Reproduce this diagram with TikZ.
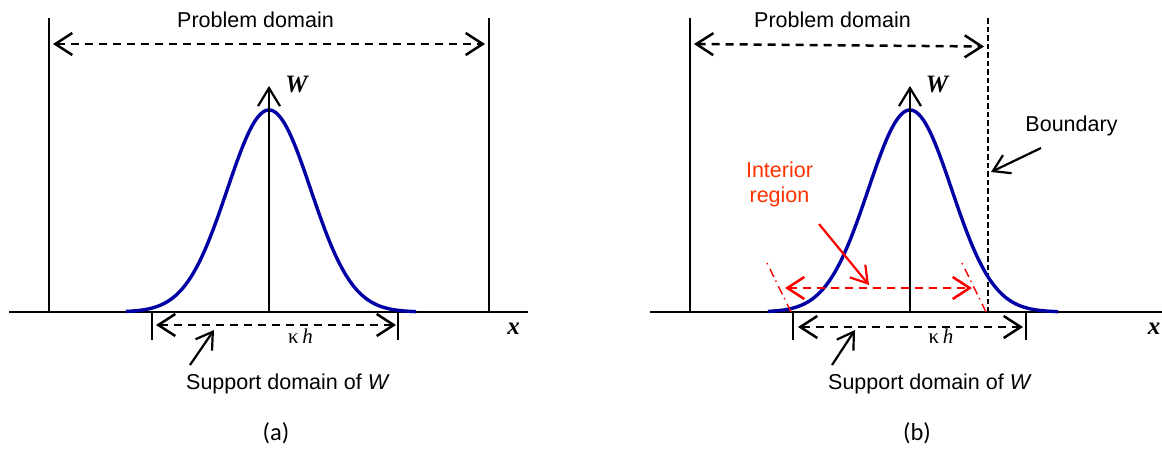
\documentclass[tikz,border=0pt]{standalone}
\usepackage{fontspec}
\setmainfont{Liberation Sans}
\newfontfamily\tnrfont{Liberation Serif}
\newfontfamily\capfont{Carlito}
\usetikzlibrary{arrows.meta}
\definecolor{curveblue}{RGB}{0,0,165}
\definecolor{labelred}{RGB}{255,51,0}
\definecolor{linered}{RGB}{255,0,0}
\begin{document}
\begin{tikzpicture}[x=1pt,y=-1pt,
  solidline/.style={line width=2.2pt},
  tickline/.style={line width=1.3pt},
  dasharrow/.style={line width=2.5pt,dash pattern=on 8pt off 6pt,
     {Straight Barb[length=17pt,width=22pt]}-{Straight Barb[length=17pt,width=22pt]}},
  reddasharrow/.style={dasharrow,draw=linered},
  pointer/.style={line width=2.2pt,-{Straight Barb[length=16pt,width=20pt]}},
  redpointer/.style={pointer,draw=linered},
  boundline/.style={line width=1.5pt,dash pattern=on 5.5pt off 3pt},
  reddashdot/.style={line width=1.4pt,draw=linered,dash pattern=on 1.5pt off 5pt on 9pt off 4pt},
  curve/.style={line width=3.4pt,draw=curveblue,line join=round},
  txt/.style={inner sep=0pt,anchor=base,font=\fontsize{21.5}{24}\selectfont},
  redtxt/.style={txt,text=labelred},
  varlbl/.style={inner sep=0pt,anchor=base,font=\fontsize{25}{28}\selectfont\tnrfont\bfseries\itshape},
  khlbl/.style={inner sep=0pt,anchor=base,font=\fontsize{21}{24}\selectfont\tnrfont},
  caplbl/.style={inner sep=0pt,anchor=base,font=\fontsize{24.5}{28}\selectfont\capfont}]
\useasboundingbox (0,0) rectangle (1162,448);
\fill[white] (0,0) rectangle (1162,448);

% ---------------- panel (a) ----------------
\coordinate (aLtop) at (49,18);   \coordinate (aLbot) at (49,312);
\coordinate (aRtop) at (489,18);  \coordinate (aRbot) at (489,312);
\coordinate (aXs) at (9,312);     \coordinate (aXe) at (528,312);
\coordinate (aWs) at (269,312);   \coordinate (aWe) at (269,86);
\coordinate (aPs) at (53,44);     \coordinate (aPe) at (485,44);
\coordinate (aT1s) at (152,312);  \coordinate (aT1e) at (152,340);
\coordinate (aT2s) at (398,312);  \coordinate (aT2e) at (398,340);
\coordinate (aSs) at (156,325);   \coordinate (aSe) at (396,325);
\coordinate (aKs) at (190,365);   \coordinate (aKe) at (214,330);

\draw[solidline] (aLtop) -- (aLbot);
\draw[solidline] (aRtop) -- (aRbot);
\draw[solidline] (aXs) -- (aXe);
\draw[curve] plot[domain=126:416,samples=160,smooth]
   (\x,{312-202*exp(-((\x-269)/59)*((\x-269)/59))});
\draw[solidline,-{Straight Barb[length=18pt,width=22pt]}] (aWs) -- (aWe);
\draw[dasharrow] (aPs) -- (aPe);
\draw[tickline] (aT1s) -- (aT1e);
\draw[tickline] (aT2s) -- (aT2e);
\draw[dasharrow] (aSs) -- (aSe);
\draw[pointer] (aKs) -- (aKe);

\node[txt] (aProb) at (255.5,27) {Problem domain};
\node[varlbl] (aW) at (296.5,92) {W};
\node[varlbl] (aX) at (513.5,334) {x};
\node[khlbl] (aKh) at (300.5,343) {κ\,\itshape h};
\node[txt] (aSup) at (288,389) {Support domain of \textit{W}};
\node[caplbl] (aCap) at (276,440) {(a)};

% ---------------- panel (b) ----------------
\coordinate (bLtop) at (690,18);   \coordinate (bLbot) at (690,312);
\coordinate (bBtop) at (988,18);   \coordinate (bBbot) at (988,312);
\coordinate (bXs) at (650,312);    \coordinate (bXe) at (1162,312);
\coordinate (bWs) at (910,312);    \coordinate (bWe) at (910,86);
\coordinate (bPs) at (694,44);     \coordinate (bPe) at (984,46.5);
\coordinate (bT1s) at (793,312);   \coordinate (bT1e) at (793,340);
\coordinate (bT2s) at (1026,312);  \coordinate (bT2e) at (1026,340);
\coordinate (bSs) at (798,327);    \coordinate (bSe) at (1023,327);
\coordinate (bKs) at (832,365);    \coordinate (bKe) at (855,330);
\coordinate (bBps) at (1041,148);  \coordinate (bBpe) at (991,172);
\coordinate (bD1s) at (767,263);   \coordinate (bD1e) at (792,314);
\coordinate (bD2s) at (962,263);   \coordinate (bD2e) at (987,314);
\coordinate (bIs) at (785,288);    \coordinate (bIe) at (972,288);
\coordinate (bRps) at (819,224);   \coordinate (bRpe) at (869,285);

\draw[solidline] (bLtop) -- (bLbot);
\draw[boundline] (bBtop) -- (bBbot);
\draw[solidline] (bXs) -- (bXe);
\draw[curve] plot[domain=768:1058,samples=160,smooth]
   (\x,{312-202*exp(-((\x-910)/59)*((\x-910)/59))});
\draw[solidline,-{Straight Barb[length=18pt,width=22pt]}] (bWs) -- (bWe);
\draw[dasharrow] (bPs) -- (bPe);
\draw[tickline] (bT1s) -- (bT1e);
\draw[tickline] (bT2s) -- (bT2e);
\draw[dasharrow] (bSs) -- (bSe);
\draw[pointer] (bKs) -- (bKe);
\draw[pointer] (bBps) -- (bBpe);
\draw[reddashdot] (bD1s) -- (bD1e);
\draw[reddashdot] (bD2s) -- (bD2e);
\draw[reddasharrow] (bIs) -- (bIe);
\draw[redpointer] (bRps) -- (bRpe);

\node[txt] (bProb) at (832.5,27) {Problem domain};
\node[varlbl] (bW) at (937,92) {W};
\node[varlbl] (bX) at (1154,334) {x};
\node[khlbl] (bKh) at (941,343) {κ\,\itshape h};
\node[txt] (bSup) at (930,389) {Support domain of \textit{W}};
\node[txt] (bBound) at (1071.5,131) {Boundary};
\node[redtxt] (bInt1) at (779.5,177) {Interior};
\node[redtxt] (bInt2) at (779.5,202.5) {region};
\node[caplbl] (bCap) at (917,440) {(b)};
\end{tikzpicture}
\end{document}
